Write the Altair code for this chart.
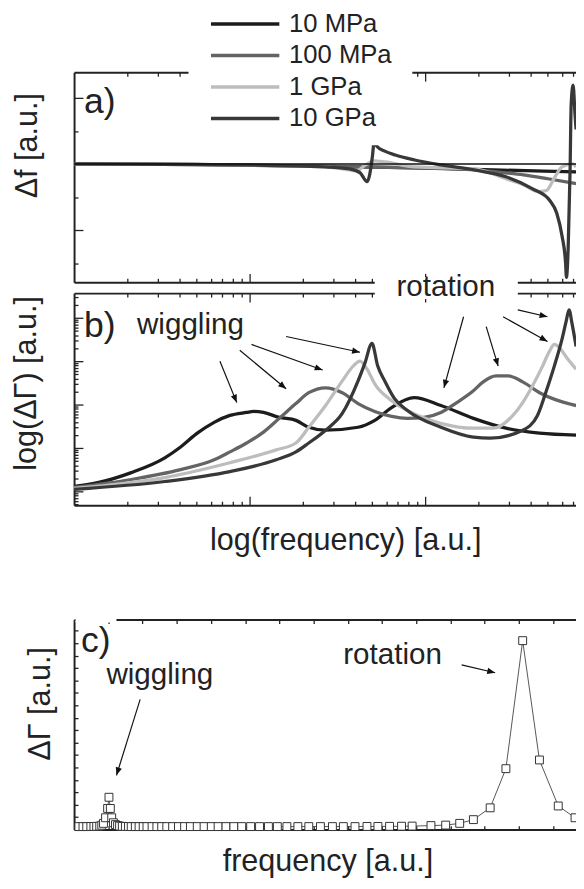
import math
import altair as alt
import pandas as pd

# ---------------- data ----------------
SERIES = ["10 MPa", "100 MPa", "1 GPa", "10 GPa"]
COLORS = ["#1c1c1c", "#646464", "#bdbdbd", "#383838"]

# (a) delta f [a.u.] versus log(frequency) [decades]
a_10M_x = [0, 0.70, 1.26, 1.94, 2.39, 2.86]
a_10M_y = [0, -0.05, -0.2, -0.4, -0.6, -0.8]
a_100M_x = [0, 0.98, 1.43, 1.94, 2.28, 2.46, 2.56, 2.70, 2.86]
a_100M_y = [0, -0.1, -0.25, -0.4, -0.6, -0.9, -1.1, -1.5, -2.0]
a_1G_x = [0, 0.98, 1.43, 1.57, 1.61, 1.66, 1.71, 1.77, 1.94, 2.28, 2.46, 2.56, 2.64, 2.69, 2.74, 2.78, 2.84, 2.86]
a_1G_y = [0, -0.1, -0.3, -0.6, -0.7, -0.1, 0.3, 0.2, -0.3, -0.5, -1.5, -2.1, -2.8, -2.7, -1.3, -0.3, 0.0, -0.3]
a_10G_x = [0, 0.98, 1.43, 1.57, 1.63, 1.67, 1.685, 1.70, 1.71, 1.725, 1.77, 1.83, 1.94, 2.09, 2.28, 2.46, 2.61, 2.71,
           2.75, 2.78, 2.80, 2.805, 2.815, 2.826, 2.832, 2.843, 2.854, 2.86]
a_10G_y = [0, -0.1, -0.3, -0.5, -0.9, -1.8, -1.0, 0.8, 2.3, 1.8, 1.3, 0.9, 0.4, -0.1, -0.6, -1.3, -2.5, -3.7,
           -5.0, -7.3, -10.0, -11.5, -8.5, -0.5, 6.0, 8.0, 5.0, 3.5]

# (b) log(delta Gamma) [a.u.] versus log(frequency) [decades]
b_10M_x = [0, 0.14, 0.326, 0.517, 0.607, 0.702, 0.798, 0.888, 0.983, 1.022, 1.079, 1.169, 1.264, 1.337, 1.433,
           1.618, 1.713, 1.809, 1.938, 2.09, 2.275, 2.461, 2.652, 2.86]
b_10M_y = [1.114, 1.205, 1.432, 1.773, 2.023, 2.341, 2.591, 2.75, 2.818, 2.841, 2.818, 2.705, 2.636, 2.477, 2.409,
           2.477, 2.636, 2.932, 3.159, 2.977, 2.682, 2.455, 2.341, 2.295]
b_100M_x = [0, 0.326, 0.607, 0.798, 0.888, 0.983, 1.079, 1.169, 1.264, 1.337, 1.433, 1.528, 1.618, 1.713, 1.809,
            1.899, 1.994, 2.09, 2.18, 2.275, 2.331, 2.404, 2.472, 2.556, 2.652, 2.742, 2.86]
b_100M_y = [1.091, 1.273, 1.5, 1.727, 1.909, 2.114, 2.364, 2.682, 3.023, 3.273, 3.386, 3.273, 3.023, 2.841, 2.727,
            2.682, 2.705, 2.818, 3.045, 3.318, 3.523, 3.659, 3.659, 3.523, 3.273, 3.114, 2.977]
b_1G_x = [0, 0.517, 0.888, 1.152, 1.264, 1.337, 1.433, 1.528, 1.59, 1.629, 1.669, 1.713, 1.809, 1.899, 2.09,
          2.275, 2.388, 2.5, 2.556, 2.612, 2.669, 2.708, 2.736, 2.764, 2.809, 2.86]
b_1G_y = [1.068, 1.318, 1.659, 1.955, 2.114, 2.477, 2.977, 3.545, 3.886, 4.0, 3.818, 3.477, 3.091, 2.864, 2.568,
          2.455, 2.455, 2.75, 3.045, 3.432, 3.886, 4.227, 4.386, 4.318, 4.068, 3.818]
b_10G_x = [0, 0.517, 0.888, 1.152, 1.264, 1.337, 1.433, 1.528, 1.618, 1.657, 1.697, 1.730, 1.770, 1.826, 1.899,
           2.09, 2.275, 2.371, 2.556, 2.640, 2.685, 2.736, 2.781, 2.803, 2.820, 2.837, 2.86]
b_10G_y = [1.045, 1.227, 1.455, 1.727, 1.909, 2.114, 2.409, 2.795, 3.545, 3.955, 4.409, 3.886, 3.545, 3.136, 2.864,
           2.477, 2.25, 2.227, 2.409, 2.75, 3.25, 3.886, 4.523, 4.909, 5.182, 4.864, 4.341]

# (c) delta Gamma [a.u.] versus frequency [a.u.]
c_f = [0.14, 0.26, 0.37, 0.49, 0.58, 0.66, 0.75, 0.81, 0.86, 0.92,
       0.98, 1.02, 1.06, 1.10, 1.15, 1.21, 1.27, 1.33, 1.41, 1.50,
       1.59, 1.67, 1.79, 1.90, 2.02, 2.13, 2.28, 2.42, 2.56, 2.71,
       2.88, 3.05, 3.23, 3.40, 3.60, 3.80, 4.01, 4.21, 4.44, 4.67,
       4.90, 5.16, 5.42, 5.68, 5.94, 6.22, 6.54, 6.86, 7.20, 7.55,
       7.87, 8.21, 8.56, 8.88, 9.22, 9.57, 9.88, 10.43, 10.86, 11.27,
       11.67, 12.16, 12.62, 13.11, 13.60, 14.15, 14.64]
c_g = [0.24, 0.24, 0.24, 0.25, 0.25, 0.26, 0.28, 0.35, 0.5, 0.95,
       1.7, 2.6, 1.7, 0.95, 0.55, 0.4, 0.32, 0.28, 0.26, 0.25,
       0.25, 0.24, 0.24, 0.24, 0.24, 0.24, 0.24, 0.24, 0.24, 0.24,
       0.24, 0.24, 0.24, 0.24, 0.24, 0.24, 0.24, 0.24, 0.24, 0.24,
       0.24, 0.24, 0.24, 0.24, 0.24, 0.24, 0.24, 0.24, 0.24, 0.24,
       0.24, 0.24, 0.25, 0.25, 0.26, 0.27, 0.28, 0.32, 0.36, 0.5,
       0.8, 1.75, 4.9, 15.2, 5.6, 1.9, 0.95]

# annotations (panel, x, y, text, font size, align)
LABELS = [
    ("a", 0.056, 6.3, "a)", 36, "left"),
    ("b", 0.056, 4.818, "b)", 36, "left"),
    ("c", 0.2, 15.16, "c)", 36, "left"),
    ("b", 0.663, 4.841, "wiggling", 30, "center"),
    ("b", 2.118, 5.705, "rotation", 30, "center"),
    ("c", 2.507, 12.46, "wiggling", 30, "center"),
    ("c", 9.308, 14.05, "rotation", 30, "center"),
]
# arrows (panel, x_from, y_from, x_to, y_to)
ARROWS = [
    ("b", 0.831, 4.0, 0.927, 3.045),
    ("b", 0.944, 4.25, 1.208, 3.364),
    ("b", 1.011, 4.386, 1.416, 3.795),
    ("b", 1.208, 4.568, 1.629, 4.205),
    ("b", 2.219, 5.023, 2.107, 3.386),
    ("b", 2.348, 4.795, 2.416, 3.886),
    ("b", 2.444, 5.023, 2.697, 4.455),
    ("b", 2.528, 5.182, 2.697, 5.023),
    ("c", 1.931, 10.48, 1.239, 4.365),
    ("c", 11.326, 13.25, 12.305, 12.62),
]
# white backgrounds behind legend / labels (panel, x1, x2, y1, y2)
COVERS = [
    ("a", 0.652, 1.927, 1.9, 16.0),
    ("b", 1.713, 2.528, 5.432, 5.932),
    ("c", 0.043, 1.239, 16.67, 17.14),
]

# ---------------- layout ----------------
FONT = "Liberation Sans"
INK = "#222222"
W, H = 509, 873
DEC = 178.0               # px per decade on the log-frequency axis
XD_AB = [0, W / DEC]
XD_C = [0, W / 34.7]
PANELS = {
    "a": dict(xd=XD_AB, yd=[-12.0, 9.3], yr=[272, 59]),
    "b": dict(xd=XD_AB, yd=[0.682, 5.568], yr=[498, 283]),
    "c": dict(xd=XD_C, yd=[0, 16.9], yr=[827, 614]),
}


def xs(p):
    return alt.Scale(domain=PANELS[p]["xd"], range=[0, W], nice=False, zero=False)


def ys(p):
    return alt.Scale(domain=PANELS[p]["yd"], range=PANELS[p]["yr"], nice=False, zero=False)


def px_per_unit(p):
    P = PANELS[p]
    return W / (P["xd"][1] - P["xd"][0]), (P["yr"][0] - P["yr"][1]) / (P["yd"][1] - P["yd"][0])


layers = []

AX = dict(labels=False, grid=False, domainColor=INK, domainWidth=2, tickColor=INK, tickWidth=1.3)
TITLE = dict(titleAlign="center", titleBaseline="middle", titleFont=FONT, titleFontSize=31,
             titleFontWeight="normal", titleColor=INK)


def axis_layer(p, channel, **kw):
    opts = dict(AX)
    opts.update(kw)
    if "title" not in opts:
        opts["title"] = None
    else:
        opts.update(TITLE)
    if channel == "x":
        df = pd.DataFrame({"v": [PANELS[p]["xd"][0]]})
        enc = {"x": alt.X("v:Q", scale=xs(p), axis=alt.Axis(**opts))}
    else:
        df = pd.DataFrame({"v": [PANELS[p]["yd"][0]]})
        enc = {"y": alt.Y("v:Q", scale=ys(p), axis=alt.Axis(**opts))}
    return alt.Chart(df).mark_point(opacity=0).encode(**enc)


# tick values
x_major = [1, 2]
x_minor = [round(n + math.log10(k), 4) for n in range(3) for k in range(2, 10) if n + math.log10(k) < XD_AB[1]]
x_ticks = sorted(x_major + x_minor)
x_test = "datum.value == 1 || datum.value == 2"
a_ticks = [-10.05, -6.7, -3.35, 0, 3.35, 6.7]
b_ticks = sorted([n for n in range(1, 6)] +
                 [round(n + math.log10(k), 4) for n in range(0, 6) for k in range(2, 10)
                  if 0.682 < n + math.log10(k) < 5.568])
c_yticks = list(range(1, 17))
c_xticks = list(range(1, 15))


def TS(test, big, small):
    return {"condition": {"test": test, "value": big}, "value": small}


# panel a axes
layers.append(axis_layer("a", "x", orient="bottom", offset=59 - H, values=x_ticks, tickSize=TS(x_test, 9, 4)))
layers.append(axis_layer("a", "x", orient="top", offset=-272, values=x_ticks, tickSize=TS(x_test, 9, 4)))
layers.append(axis_layer("a", "y", orient="right", offset=-W, values=a_ticks,
                         tickSize=TS("abs(datum.value) > 5 && abs(datum.value) < 8", 9, 4),
                         title="Δf [a.u.]", titleX=-47, titleY=133, titleAngle=270))
# panel b axes
layers.append(axis_layer("b", "x", orient="bottom", offset=283 - H, values=x_ticks, tickSize=TS(x_test, 9, 4)))
layers.append(axis_layer("b", "x", orient="top", offset=-498, values=x_ticks, tickSize=TS(x_test, 9, 4),
                         title="log(frequency) [a.u.]", titleX=275, titleY=36))
layers.append(axis_layer("b", "y", orient="right", offset=-W, values=b_ticks,
                         tickSize=TS("abs(datum.value - round(datum.value)) < 0.001", 9, 4),
                         title="log(ΔΓ) [a.u.]", titleX=-48, titleY=374, titleAngle=270))
# panel c axes
layers.append(axis_layer("c", "x", orient="bottom", offset=614 - H, values=c_xticks, tickSize=4))
layers.append(axis_layer("c", "x", orient="top", offset=-827, values=c_xticks, tickSize=4,
                         title="frequency [a.u.]", titleX=257, titleY=33))
layers.append(axis_layer("c", "y", orient="right", offset=-W, values=c_yticks, tickSize=4,
                         title="ΔΓ [a.u.]", titleX=-34, titleY=699, titleAngle=270))


# curves
def curves(xs_list, ys_list):
    rows = []
    for name, xv, yv in zip(SERIES, xs_list, ys_list):
        for i, (x, y) in enumerate(zip(xv, yv)):
            rows.append({"s": name, "x": x, "y": y, "o": i})
    return pd.DataFrame(rows)


legend = alt.Legend(orient="none", legendX=155, legendY=-8.5, title=None, symbolType="M-2.1,0L2.1,0",
                    symbolSize=1089, symbolStrokeWidth=3.5, labelFontSize=26, labelFont=FONT,
                    labelColor=INK, labelOffset=26, rowPadding=0, padding=0)
color = alt.Color("s:N", scale=alt.Scale(domain=SERIES, range=COLORS), legend=legend)

df_a = curves([a_10M_x, a_100M_x, a_1G_x, a_10G_x], [a_10M_y, a_100M_y, a_1G_y, a_10G_y])
df_b = curves([b_10M_x, b_100M_x, b_1G_x, b_10G_x], [b_10M_y, b_100M_y, b_1G_y, b_10G_y])

layers.append(alt.Chart(df_a).mark_line(strokeWidth=3.3, interpolate="monotone").encode(
    x=alt.X("x:Q", scale=xs("a"), axis=None), y=alt.Y("y:Q", scale=ys("a"), axis=None),
    color=color, order="o:Q"))
layers.append(alt.Chart(pd.DataFrame({"x": [XD_AB[0]], "x2": [XD_AB[1]], "y": [0.0]})).mark_rule(
    color="#111111", strokeWidth=1.4).encode(
    x=alt.X("x:Q", scale=xs("a"), axis=None), x2="x2:Q", y=alt.Y("y:Q", scale=ys("a"), axis=None)))
layers.append(alt.Chart(df_b).mark_line(strokeWidth=3.3, interpolate="monotone").encode(
    x=alt.X("x:Q", scale=xs("b"), axis=None), y=alt.Y("y:Q", scale=ys("b"), axis=None),
    color=color, order="o:Q"))

# panel c spectrum
df_c = pd.DataFrame({"f": c_f, "g": c_g})
layers.append(alt.Chart(df_c).mark_line(color="#444444", strokeWidth=0.9).encode(
    x=alt.X("f:Q", scale=xs("c"), axis=None), y=alt.Y("g:Q", scale=ys("c"), axis=None)))
layers.append(alt.Chart(df_c).mark_point(shape="square", filled=True, fill="white", stroke="#333333",
                                         strokeWidth=1, size=64, opacity=1).encode(
    x=alt.X("f:Q", scale=xs("c"), axis=None), y=alt.Y("g:Q", scale=ys("c"), axis=None)))

# white covers
for p, x1, x2, y1, y2 in COVERS:
    d = pd.DataFrame({"x": [x1], "x2": [x2], "y": [y1], "y2": [y2]})
    layers.append(alt.Chart(d).mark_rect(color="white").encode(
        x=alt.X("x:Q", scale=xs(p), axis=None), x2="x2:Q",
        y=alt.Y("y:Q", scale=ys(p), axis=None), y2="y2:Q"))

# labels
for p, x, y, t, fs, al in LABELS:
    d = pd.DataFrame({"x": [x], "y": [y], "t": [t]})
    layers.append(alt.Chart(d).mark_text(font=FONT, fontSize=fs, align=al, baseline="middle", color=INK).encode(
        x=alt.X("x:Q", scale=xs(p), axis=None), y=alt.Y("y:Q", scale=ys(p), axis=None), text="t:N"))

# arrows
HEAD = "M0,0L-0.4,1L0.4,1Z"
for p, x1, y1, x2, y2 in ARROWS:
    kx, ky = px_per_unit(p)
    dx, dy = (x2 - x1) * kx, -(y2 - y1) * ky
    ang = math.degrees(math.atan2(dx, -dy)) % 360
    d = pd.DataFrame({"x": [x1], "y": [y1], "x2": [x2], "y2": [y2]})
    layers.append(alt.Chart(d).mark_rule(color="#111111", strokeWidth=1.2).encode(
        x=alt.X("x:Q", scale=xs(p), axis=None), x2="x2:Q",
        y=alt.Y("y:Q", scale=ys(p), axis=None), y2="y2:Q"))
    layers.append(alt.Chart(d).mark_point(shape=HEAD, filled=True, color="#111111", size=256, opacity=1,
                                          angle=ang).encode(
        x=alt.X("x2:Q", scale=xs(p), axis=None), y=alt.Y("y2:Q", scale=ys(p), axis=None)))

chart = alt.layer(*layers).resolve_scale(x="independent", y="independent").properties(
    width=W, height=H, padding={"left": 67, "top": 0, "right": 0, "bottom": 0},
    autosize=alt.AutoSizeParams(type="none"),
).configure_view(stroke=None)

chart.save("out.html", embed_options={"renderer": "svg", "actions": False})
